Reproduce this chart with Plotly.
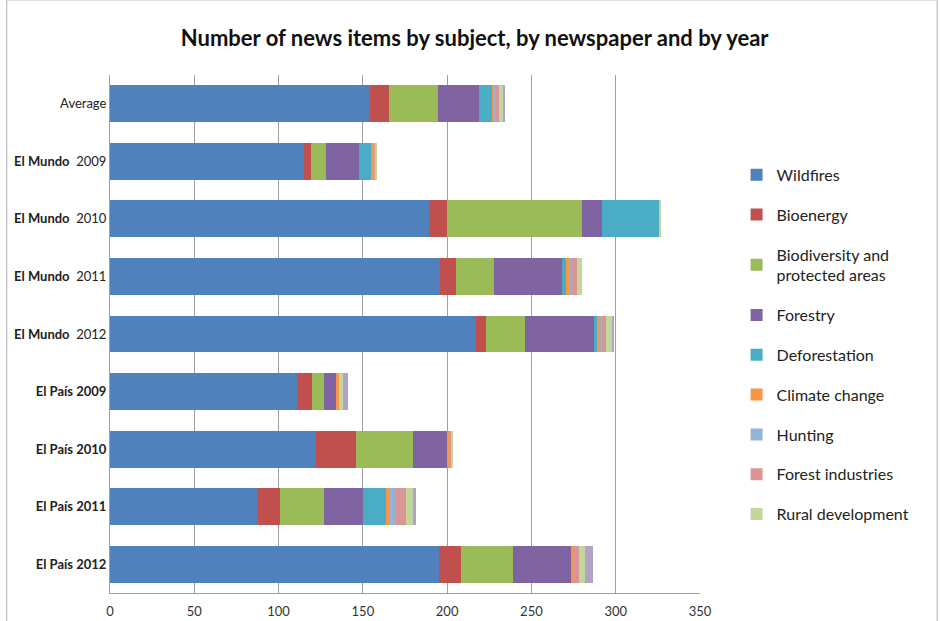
import plotly.graph_objects as go

categories = ["Average", "El Mundo 2009", "El Mundo 2010", "El Mundo 2011", "El Mundo 2012",
              "El País 2009", "El País 2010", "El País 2011", "El País 2012"]
tick_text = ["Average", "<b>El Mundo</b>  2009", "<b>El Mundo</b>  2010", "<b>El Mundo</b>  2011",
             "<b>El Mundo</b>  2012", "<b>El País 2009</b>", "<b>El País 2010</b>",
             "<b>El País 2011</b>", "<b>El País 2012</b>"]

wildfires          = [154, 115, 189, 196, 217, 111, 122, 87, 195]
bioenergy          = [11.5, 4, 11, 9, 6, 9, 24, 14, 13]
biodiversity       = [29, 9, 80, 23, 23, 7, 34, 26, 31]
forestry           = [24.5, 20, 12, 40, 41, 7, 20, 23, 35]
deforestation      = [8, 7, 34, 2.5, 2, 0, 0.5, 13.5, 0]
climate_change     = [1, 1.5, 0, 2, 1.5, 2, 1, 2.5, 0.5]
hunting            = [1, 0.5, 0, 1, 1.5, 0, 0, 3.5, 0]
forest_industries  = [1.5, 0.5, 0, 3.5, 2, 0, 0.5, 6, 3.5]
rural_development  = [2.5, 1, 1, 3, 3.5, 2, 1.5, 4, 3.5]
other              = [1.5, 0, 0, 0, 1.5, 3, 0, 2, 5]

series = [
    ("Wildfires", wildfires, "#4F81BD", True),
    ("Bioenergy", bioenergy, "#C0504D", True),
    ("Biodiversity and<br>protected areas", biodiversity, "#9BBB59", True),
    ("Forestry", forestry, "#8064A2", True),
    ("Deforestation", deforestation, "#4BACC6", True),
    ("Climate change", climate_change, "#F79646", True),
    ("Hunting", hunting, "#95B3D7", True),
    ("Forest industries", forest_industries, "#D99694", True),
    ("Rural development", rural_development, "#C3D69B", True),
    ("Other", other, "#B3A2C7", False),
]

fig = go.Figure()
for i, (name, vals, color, show) in enumerate(series):
    fig.add_trace(go.Bar(
        y=categories, x=vals, name=name, orientation="h",
        marker=dict(color=color, line=dict(width=0)),
        legendgroup="g%d" % i, showlegend=show,
    ))

fig.update_layout(
    barmode="stack",
    bargap=0.36,
    width=940, height=621,
    margin=dict(l=110, r=240, t=75, b=28),
    paper_bgcolor="white",
    plot_bgcolor="white",
    font=dict(family="Lato, Carlito, sans-serif", color="#222222"),
    title=dict(text="<b>Number of news items by subject, by newspaper and by year</b>",
               x=0.505, xanchor="center", y=0.938, yanchor="middle",
               font=dict(size=22, color="#111111")),
    xaxis=dict(range=[0, 350], dtick=50, showgrid=True, gridcolor="#a0a0a0", gridwidth=1,
               showline=True, linecolor="#a0a0a0", zeroline=False, automargin=False,
               ticks="", ticklabelstandoff=6, tickfont=dict(size=13, color="#333333")),
    yaxis=dict(categoryorder="array", categoryarray=categories, autorange="reversed",
               tickvals=categories, ticktext=tick_text, automargin=False,
               showline=True, linecolor="#a0a0a0", ticks="",
               tickfont=dict(size=13, color="#222222")),
    legend=dict(x=1.062, xanchor="left", y=0.84, yanchor="top",
                font=dict(size=16, color="#222222"), tracegroupgap=16,
                itemwidth=30, bgcolor="rgba(0,0,0,0)"),
    shapes=[dict(type="rect", xref="paper", yref="paper",
                 x0=-0.175, x1=1.402, y0=-0.06, y1=1.145,
                 line=dict(color="#b0b0b0", width=1))],
)

fig.write_html("out.html")
